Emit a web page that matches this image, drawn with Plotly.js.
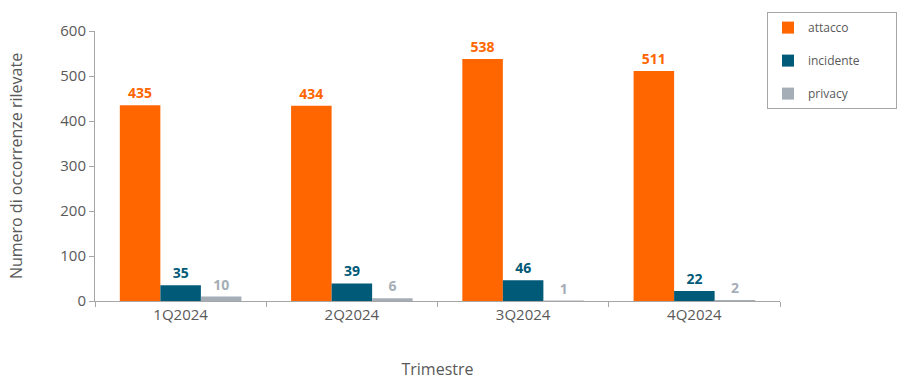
<!DOCTYPE html>
<html><head><meta charset="utf-8">
<script src="https://cdn.plot.ly/plotly-3.0.1.min.js"></script>
<style>body{margin:0;background:#fff}#chart{width:898px;height:388px}</style>
</head><body><div id="chart"></div>
<script>
const categories = ["1Q2024", "2Q2024", "3Q2024", "4Q2024"];
const attacco = [435, 434, 538, 511];
const incidente = [35, 39, 46, 22];
const privacy = [10, 6, 1, 2];
const seriesNames = ["attacco", "incidente", "privacy"];
const colors = ["#FF6600", "#005A78", "#A5AEB6"];
const FONT = "'Open Sans', Lato, sans-serif";
const PAD = "\u00a0".repeat(10);

const data = [attacco, incidente, privacy].map((vals, i) => ({
  type: "bar",
  name: seriesNames[i] + PAD,
  legendgroup: seriesNames[i],
  x: categories,
  y: vals,
  marker: {color: colors[i]},
  text: vals.map(String),
  textposition: "outside",
  cliponaxis: false,
  textfont: {family: FONT, size: 14, color: colors[i], weight: 700},
  hoverinfo: "x+y"
}));

const layout = {
  width: 898, height: 388,
  margin: {l: 95, r: 118, t: 31, b: 87, autoexpand: false},
  paper_bgcolor: "#fff", plot_bgcolor: "#fff",
  barmode: "group", bargap: 0.29, bargroupgap: 0,
  font: {family: FONT, color: "#595959"},
  xaxis: {
    type: "category",
    showline: true, linecolor: "#A6A6A6", linewidth: 1,
    ticks: "outside", tickson: "boundaries", ticklen: 5, tickcolor: "#A6A6A6",
    tickfont: {size: 15, color: "#595959", family: FONT},
    title: {text: "Trimestre", font: {size: 16, color: "#595959", family: FONT}, standoff: 40},
    showgrid: false
  },
  yaxis: {
    range: [0, 600], dtick: 100,
    showline: true, linecolor: "#A6A6A6", linewidth: 1,
    ticks: "outside", ticklen: 5, tickcolor: "#A6A6A6",
    tickfont: {size: 15, color: "#595959", family: FONT},
    title: {text: "Numero di occorrenze rilevate", font: {size: 16, color: "#595959", family: FONT}, standoff: 33},
    showgrid: false, zeroline: false
  },
  legend: {
    x: 0.981, xanchor: "left", y: 1.07, yanchor: "top",
    bordercolor: "#A6A6A6", borderwidth: 1,
    font: {size: 12, color: "#595959", family: FONT},
    traceorder: "grouped", tracegroupgap: 14,
    itemwidth: 30
  },
  showlegend: true
};

Plotly.newPlot("chart", data, layout, {displayModeBar: false, staticPlot: true});
</script></body></html>
